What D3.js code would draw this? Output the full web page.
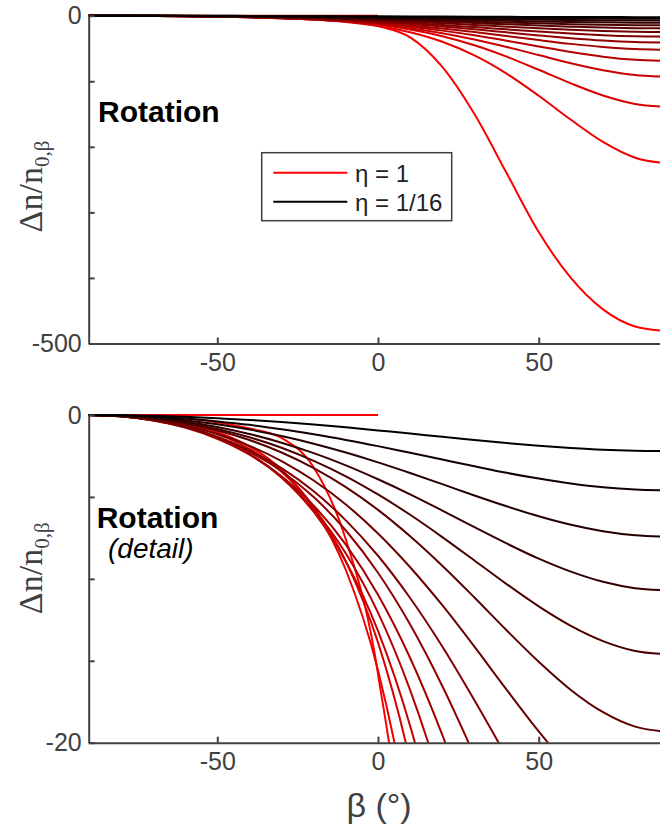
<!DOCTYPE html>
<html>
<head>
<meta charset="utf-8">
<script src="https://cdn.jsdelivr.net/npm/d3@7"></script>
<style>
  body { margin: 0; background: #fff; }
  svg { display: block; }
</style>
</head>
<body>
<svg id="chart" width="660" height="830"></svg>
<script>
// beta (deg) sample points, shared by every curve
var beta = [-90, -80, -70, -60, -50, -40, -30, -20, -10, 0, 10, 20, 30, 40, 50, 60, 70, 80, 90];

// dn/n0,beta, one row per eta, from eta = 1/16 (black) up to eta = 1 (red)
var dnCurves = [
  [0, -0.01, -0.05, -0.11, -0.2, -0.3, -0.43, -0.58, -0.75, -0.94, -1.13, -1.33, -1.52, -1.71, -1.87, -2.01, -2.12, -2.18, -2.2],
  [0, -0.02, -0.1, -0.22, -0.39, -0.6, -0.87, -1.18, -1.52, -1.9, -2.31, -2.72, -3.13, -3.53, -3.88, -4.18, -4.41, -4.55, -4.6],
  [0, -0.03, -0.14, -0.32, -0.57, -0.89, -1.28, -1.75, -2.29, -2.89, -3.54, -4.22, -4.91, -5.57, -6.18, -6.7, -7.09, -7.34, -7.43],
  [0, -0.04, -0.18, -0.41, -0.73, -1.16, -1.69, -2.33, -3.07, -3.92, -4.84, -5.83, -6.85, -7.84, -8.77, -9.56, -10.18, -10.57, -10.7],
  [0, -0.05, -0.21, -0.47, -0.85, -1.36, -2.0, -2.8, -3.74, -4.85, -6.09, -7.45, -8.88, -10.32, -11.68, -12.87, -13.8, -14.4, -14.6],
  [0, -0.06, -0.23, -0.52, -0.95, -1.53, -2.29, -3.24, -4.4, -5.79, -7.4, -9.2, -11.14, -13.14, -15.06, -16.78, -18.14, -19.02, -19.33],
  [0, -0.07, -0.28, -0.64, -1.16, -1.88, -2.81, -4.0, -5.46, -7.23, -9.29, -11.61, -14.14, -16.76, -19.31, -21.6, -23.41, -24.59, -25.0],
  [0, -0.08, -0.31, -0.72, -1.32, -2.15, -3.24, -4.65, -6.43, -8.59, -11.17, -14.13, -17.41, -20.85, -24.24, -27.32, -29.78, -31.39, -31.95],
  [0, -0.08, -0.32, -0.73, -1.36, -2.24, -3.43, -5.01, -7.05, -9.63, -12.79, -16.54, -20.8, -25.4, -30.05, -34.34, -37.85, -40.15, -40.95],
  [0, -0.08, -0.33, -0.77, -1.45, -2.41, -3.74, -5.53, -7.91, -10.97, -14.83, -19.52, -24.97, -30.98, -37.16, -42.97, -47.76, -50.94, -52.05],
  [0, -0.08, -0.32, -0.75, -1.42, -2.4, -3.81, -5.76, -8.45, -12.06, -16.79, -22.77, -29.99, -38.23, -46.95, -55.37, -62.46, -67.21, -68.89],
  [0, -0.07, -0.3, -0.71, -1.37, -2.35, -3.81, -5.92, -8.94, -13.18, -18.98, -26.61, -36.23, -47.62, -60.08, -72.45, -83.09, -90.38, -92.91],
  [0, -0.06, -0.25, -0.59, -1.17, -2.07, -3.47, -5.63, -8.93, -13.88, -21.15, -31.41, -45.18, -62.5, -82.49, -103.21, -121.68, -134.55, -139.18],
  [0, -0.05, -0.21, -0.52, -1.05, -1.91, -3.34, -5.67, -9.46, -15.58, -25.18, -39.7, -60.5, -88.26, -122.08, -158.7, -192.45, -216.56, -225.34],
  [0, -0.02, -0.08, -0.22, -0.45, -0.82, -1.4, -3.2, -7.6, -15.8, -33, -78, -150, -240, -330, -400, -448, -474, -481]
];

// the flat eta = 1 segment at zero for beta < 0
var zeroBeta = [-90, 0];
var zeroVal = [0, 0];

var legendText = ['η = 1', 'η = 1/16'];
var xTicks = [-50, 0, 50];
var topYTicks = [0, -100, -200, -300, -400, -500];
var topYLabels = [0, -500];
var botYTicks = [0, -5, -10, -15, -20];
var botYLabels = [0, -20];

var axisColor = '#404040';
var svg = d3.select('#chart');
var x = d3.scaleLinear().domain([-90, 90]).range([88.7, 667.3]);
var color = function(i) {
  return d3.interpolateRgb('#000000', '#ff0000')(i / (dnCurves.length - 1));
};

var styleAxis = function(g) {
  g.select('.domain').attr('stroke', axisColor).attr('stroke-width', 2);
  g.selectAll('.tick line').attr('stroke', axisColor).attr('stroke-width', 2);
  g.selectAll('.tick text')
    .attr('fill', axisColor)
    .attr('font-size', 25)
    .attr('font-family', '"Liberation Sans", Arial, sans-serif');
  g.attr('font-size', null).attr('font-family', null);
};

var drawPanel = function(p) {
  var y = d3.scaleLinear().domain([p.yMin, 0]).range([p.bottom, p.top]);
  var line = d3.line()
    .x(function(d) { return x(d[0]); })
    .y(function(d) { return y(d[1]); })
    .curve(d3.curveMonotoneX);

  svg.append('clipPath').attr('id', p.id)
    .append('rect')
    .attr('x', x(-90) - 2).attr('y', p.top - 3)
    .attr('width', 600).attr('height', p.bottom - p.top + 3);

  var plot = svg.append('g').attr('clip-path', 'url(#' + p.id + ')');

  plot.append('path')
    .datum(zeroBeta.map(function(b, i) { return [b, zeroVal[i]]; }))
    .attr('d', line)
    .attr('fill', 'none')
    .attr('stroke', color(dnCurves.length - 1))
    .attr('stroke-width', 2);

  // draw red first so the black curves end up on top
  var order = d3.range(dnCurves.length).reverse();
  plot.selectAll('.curve')
    .data(order)
    .enter().append('path')
    .attr('class', 'curve')
    .attr('d', function(k) {
      return line(beta.map(function(b, i) { return [b, dnCurves[k][i]]; }));
    })
    .attr('fill', 'none')
    .attr('stroke', function(k) { return color(k); })
    .attr('stroke-width', 2);

  var yAxis = d3.axisLeft(y)
    .tickValues(p.yTicks)
    .tickSizeInner(-6).tickSizeOuter(0).tickPadding(7)
    .tickFormat(function(d) { return p.yLabels.indexOf(d) >= 0 ? String(d) : ''; });
  svg.append('g').attr('transform', 'translate(' + x(-90) + ',0)').call(yAxis).call(styleAxis);

  var xAxis = d3.axisBottom(x)
    .tickValues(xTicks)
    .tickSizeInner(-6).tickSizeOuter(0).tickPadding(10)
    .tickFormat(function(d) { return String(d); });
  svg.append('g').attr('transform', 'translate(0,' + p.bottom + ')').call(xAxis).call(styleAxis);

  var lab = svg.append('text')
    .attr('transform', 'translate(42,' + p.labelY + ') rotate(-90)')
    .attr('text-anchor', 'middle')
    .attr('fill', axisColor)
    .attr('font-family', '"Liberation Serif", "Times New Roman", serif')
    .attr('font-size', 34);
  lab.append('tspan').text('Δn/n');
  lab.append('tspan').attr('font-size', 21).attr('dy', 7).text('0,β');

  svg.append('text')
    .attr('x', p.titleX).attr('y', p.titleY)
    .attr('font-family', '"Liberation Sans", Arial, sans-serif')
    .attr('font-weight', 'bold')
    .attr('font-size', 30)
    .attr('fill', '#000')
    .text('Rotation');
  if (p.sub) {
    svg.append('text')
      .attr('x', p.sub.x).attr('y', p.sub.y)
      .attr('font-family', '"Liberation Sans", Arial, sans-serif')
      .attr('font-style', 'italic')
      .attr('font-size', 28)
      .attr('fill', '#000')
      .text(p.sub.text);
  }
};

drawPanel({ id: 'clipTop', top: 15.7, bottom: 343.5, yMin: -500, yTicks: topYTicks, yLabels: topYLabels,
  labelY: 186.5, titleX: 98, titleY: 121.5 });
drawPanel({ id: 'clipBot', top: 415, bottom: 742.7, yMin: -20, yTicks: botYTicks, yLabels: botYLabels,
  labelY: 568.3, titleX: 96.7, titleY: 528, sub: { x: 108, y: 558, text: '(detail)' } });

// legend
var lg = svg.append('g');
lg.append('rect')
  .attr('x', 261.7).attr('y', 152.7).attr('width', 190).attr('height', 68)
  .attr('fill', '#fff').attr('stroke', axisColor).attr('stroke-width', 1.5);
var legendColors = [color(dnCurves.length - 1), color(0)];
legendText.forEach(function(t, i) {
  var ly = 172.7 + i * 29;
  lg.append('line')
    .attr('x1', 273.3).attr('x2', 347.3).attr('y1', ly).attr('y2', ly)
    .attr('stroke', legendColors[i]).attr('stroke-width', 2);
  lg.append('text')
    .attr('x', 355).attr('y', ly + 9)
    .attr('font-family', '"Liberation Sans", Arial, sans-serif')
    .attr('font-size', 24)
    .attr('fill', '#222')
    .text(t);
});

svg.append('text')
  .attr('x', 379).attr('y', 817)
  .attr('text-anchor', 'middle')
  .attr('font-family', '"Liberation Sans", Arial, sans-serif')
  .attr('font-size', 34)
  .attr('fill', axisColor)
  .text('β (°)');
</script>
</body>
</html>
